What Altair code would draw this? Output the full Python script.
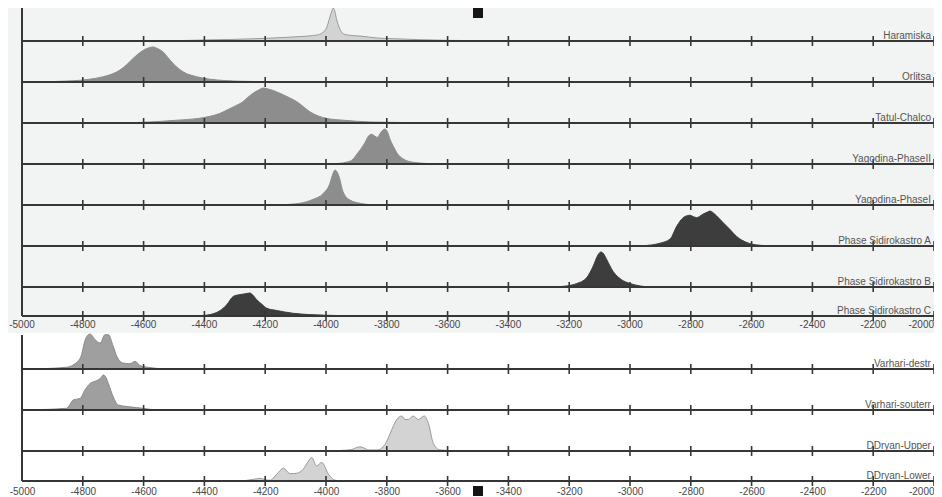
import altair as alt
import pandas as pd

# ---------------- data ----------------
TOP_NAMES = ["Haramiska", "Orlitsa", "Tatul-Chalco", "Yagodina-PhaseII", "Yagodina-PhaseI",
             "Phase Sidirokastro A", "Phase Sidirokastro B", "Phase Sidirokastro C"]
BOT_NAMES = ["Varhari-destr", "Varhari-souterr", "DDryan-Upper", "DDryan-Lower"]

TICK_YEARS = list(range(-4800, -1999, 200))
AXIS_YEARS = list(range(-5000, -1999, 200))
MARKER_YEARS = [-3500]

haramiska_years = [-4550, -4450, -4300, -4200, -4110, -4060, -4030, -4010, -3998, -3988, -3980, -3976,
                   -3972, -3965, -3955, -3944, -3920, -3888, -3832, -3780, -3690, -3600, -3500, -3400]
haramiska_dens = [0, 0.02, 0.05, 0.08, 0.12, 0.15, 0.18, 0.26, 0.4, 0.7, 0.93, 1.0,
                  0.93, 0.65, 0.38, 0.22, 0.17, 0.15, 0.09, 0.07, 0.04, 0.02, 0.01, 0]

orlitsa_years = [-4960, -4875, -4786, -4733, -4700, -4678, -4655, -4635, -4602, -4585, -4569, -4553,
                 -4536, -4520, -4503, -4470, -4425, -4382, -4330, -4273, -4200, -4100]
orlitsa_dens = [0, 0.02, 0.07, 0.15, 0.24, 0.34, 0.5, 0.67, 0.9, 0.97, 1.0, 0.95,
                0.86, 0.7, 0.53, 0.29, 0.15, 0.08, 0.04, 0.02, 0.01, 0]

tatul_years = [-4700, -4602, -4490, -4420, -4382, -4350, -4326, -4300, -4273, -4255, -4240, -4220,
               -4207, -4190, -4174, -4160, -4141, -4120, -4096, -4075, -4053, -4025, -3997, -3944,
               -3900, -3855, -3799, -3700, -3600]
tatul_dens = [0, 0.02, 0.08, 0.13, 0.19, 0.27, 0.37, 0.48, 0.61, 0.75, 0.85, 0.95,
              1.0, 0.97, 0.93, 0.88, 0.81, 0.72, 0.61, 0.47, 0.32, 0.2, 0.13, 0.08,
              0.05, 0.03, 0.02, 0.01, 0]

yag2_years = [-4010, -3954, -3930, -3915, -3895, -3872, -3860, -3850, -3840, -3831, -3820, -3806,
              -3797, -3789, -3778, -3767, -3747, -3714, -3658, -3600]
yag2_dens = [0, 0.02, 0.06, 0.11, 0.32, 0.61, 0.8, 0.85, 0.8, 0.76, 0.9, 1.0,
             0.9, 0.7, 0.5, 0.32, 0.15, 0.05, 0.01, 0]

yag1_years = [-4160, -4118, -4086, -4043, -4009, -3987, -3978, -3970, -3964, -3957, -3944, -3921,
              -3888, -3855, -3820]
yag1_dens = [0, 0.02, 0.05, 0.16, 0.33, 0.62, 0.88, 1.0, 0.95, 0.81, 0.38, 0.14, 0.05, 0.01, 0]

sidA_years = [-3000, -2956, -2901, -2868, -2846, -2825, -2810, -2803, -2792, -2781, -2760, -2745,
              -2737, -2728, -2715, -2694, -2671, -2649, -2616, -2583, -2550, -2500]
sidA_dens = [0, 0.01, 0.08, 0.2, 0.57, 0.81, 0.87, 0.88, 0.84, 0.81, 0.91, 0.97,
             1.0, 0.96, 0.86, 0.67, 0.47, 0.27, 0.1, 0.03, 0.01, 0]

sidB_years = [-3260, -3230, -3208, -3175, -3143, -3121, -3105, -3096, -3087, -3077, -3056, -3028,
              -3000, -2967, -2934]
sidB_dens = [0, 0.01, 0.03, 0.1, 0.26, 0.6, 0.92, 1.0, 0.95, 0.79, 0.45, 0.21, 0.1, 0.03, 0]

sidC_years = [-4440, -4405, -4360, -4327, -4305, -4283, -4265, -4250, -4240, -4228, -4210, -4195,
              -4162, -4109, -4053, -3960, -3888, -3850]
sidC_dens = [0, 0.02, 0.15, 0.48, 0.85, 0.93, 0.97, 1.0, 0.9, 0.71, 0.5, 0.34,
             0.24, 0.12, 0.06, 0.02, 0.01, 0]

vdestr_years = [-4960, -4930, -4853, -4820, -4804, -4795, -4787, -4776, -4760, -4743, -4727, -4716,
                -4700, -4688, -4667, -4645, -4628, -4612, -4579, -4546, -4520]
vdestr_dens = [0, 0.01, 0.05, 0.19, 0.41, 0.75, 0.93, 1.0, 0.84, 0.74, 0.98, 0.98,
               0.65, 0.36, 0.17, 0.15, 0.22, 0.1, 0.04, 0.01, 0]

vsout_years = [-4970, -4941, -4853, -4831, -4809, -4793, -4776, -4754, -4740, -4733, -4725, -4716,
               -4700, -4683, -4656, -4623, -4579, -4540]
vsout_dens = [0, 0.01, 0.05, 0.29, 0.33, 0.57, 0.76, 0.84, 0.92, 1.0, 0.95, 0.76,
              0.38, 0.14, 0.1, 0.07, 0.02, 0]

dup_years = [-3980, -3944, -3915, -3900, -3888, -3876, -3860, -3830, -3812, -3800, -3789, -3767,
             -3751, -3740, -3729, -3713, -3696, -3677, -3663, -3647, -3625, -3580, -3550]
dup_dens = [0, 0.02, 0.04, 0.1, 0.12, 0.09, 0.03, 0.03, 0.12, 0.28, 0.5, 0.9,
            1.0, 0.9, 0.9, 1.0, 0.9, 1.0, 0.79, 0.22, 0.03, 0.01, 0]

dlow_years = [-4275, -4239, -4217, -4200, -4184, -4162, -4140, -4118, -4096, -4075, -4060, -4047,
              -4031, -4014, -3992, -3970, -3950]
dlow_dens = [0, 0.07, 0.11, 0.06, 0.03, 0.29, 0.54, 0.31, 0.33, 0.5, 0.8, 1.0,
             0.64, 0.79, 0.29, 0.03, 0]

CURVES = {
    "Haramiska": (haramiska_years, haramiska_dens),
    "Orlitsa": (orlitsa_years, orlitsa_dens),
    "Tatul-Chalco": (tatul_years, tatul_dens),
    "Yagodina-PhaseII": (yag2_years, yag2_dens),
    "Yagodina-PhaseI": (yag1_years, yag1_dens),
    "Phase Sidirokastro A": (sidA_years, sidA_dens),
    "Phase Sidirokastro B": (sidB_years, sidB_dens),
    "Phase Sidirokastro C": (sidC_years, sidC_dens),
    "Varhari-destr": (vdestr_years, vdestr_dens),
    "Varhari-souterr": (vsout_years, vsout_dens),
    "DDryan-Upper": (dup_years, dup_dens),
    "DDryan-Lower": (dlow_years, dlow_dens),
}

# ---------------- layout & style ----------------
X_MIN, X_MAX = -5000, -2000
W, H = 912, 473                 # one plot area spanning both panels (y units = pixels)
TOP_BASE = [440, 399, 358, 317, 276, 235, 194, 165]
BOT_BASE = [112, 71, 30, 0]
TOP_SPAN = (165, 473)           # extent of the upper panel's vertical axis line
BOT_SPAN = (0, 146)             # extent of the lower panel's vertical axis line
MARKER_Y = [468, -10]
PEAK = {n: 35 for n in CURVES}
PEAK["Haramiska"] = 33
PEAK["Phase Sidirokastro C"] = 23
PEAK["DDryan-Lower"] = 23.5
LABEL_YEAR = -2010
TICK_UP, TICK_DOWN = 5, 5

NAMES = TOP_NAMES + BOT_NAMES
BASES = TOP_BASE + BOT_BASE
LIGHT, LIGHT_S = "#d3d3d3", "#9a9a9a"
MID = "#8d8d8d"
DARK = "#3d3d3d"
VAR, VAR_S = "#9f9f9f", "#8a8a8a"
FILLS = [LIGHT, MID, MID, MID, MID, DARK, DARK, DARK, VAR, VAR, LIGHT, LIGHT]
STROKES = [LIGHT_S, MID, MID, MID, MID, DARK, DARK, DARK, VAR_S, VAR_S, LIGHT_S, LIGHT_S]
LINE = "#363636"
FONT = "Liberation Sans"
BG = "#f2f3f3"

# ---------------- tables ----------------
rows = []
for n, b in zip(NAMES, BASES):
    yrs, ds = CURVES[n]
    for yr, d in zip(yrs, ds):
        rows.append({"name": n, "year": yr, "base": b, "top": b + d * PEAK[n]})
dens = pd.DataFrame(rows)
base_df = pd.DataFrame({"name": NAMES, "base": BASES, "x0": X_MIN, "x1": X_MAX, "lx": LABEL_YEAR})
ticks = pd.DataFrame([{"year": t, "lo": b - TICK_DOWN, "hi": b + TICK_UP}
                      for b in BASES for t in TICK_YEARS])
left = pd.DataFrame({"x": [X_MIN, X_MIN], "y0": [TOP_SPAN[0], BOT_SPAN[0]],
                     "y1": [TOP_SPAN[1], BOT_SPAN[1]]})
marks = pd.DataFrame([{"year": yr, "my": my} for yr in MARKER_YEARS for my in MARKER_Y])
mid_labels = pd.DataFrame({"year": AXIS_YEARS, "y": TOP_BASE[-1],
                           "label": [str(v) for v in AXIS_YEARS]})

xs = alt.Scale(domain=[X_MIN, X_MAX], nice=False, zero=False)
ys = alt.Scale(domain=[0, H], nice=False, zero=False)
xa = alt.Axis(values=AXIS_YEARS, labelExpr="'' + datum.value", domain=False, ticks=False,
              grid=False, labelPadding=5, zindex=1, title=None, labelFlush=False,
              labelAlign=alt.ExprRef(f"datum.value == {X_MAX} ? 'right' : 'center'"),
              labelOverlap=False, labelFont=FONT, labelFontSize=10, labelColor="#474747")


def X(field):
    return alt.X(field, scale=xs, axis=xa)


def Y(field):
    return alt.Y(field, scale=ys, axis=None)


bg = alt.Chart(pd.DataFrame({"k": [0]})).mark_rect(color=BG).encode(
    x=alt.value(-14), x2=alt.value(W + 8), y=alt.value(0), y2=alt.value(325))

areas = alt.Chart(dens).mark_area(interpolate="monotone", strokeWidth=1).encode(
    x=X("year:Q"), y=Y("top:Q"), y2="base:Q", detail="name:N",
    fill=alt.Fill("name:N", scale=alt.Scale(domain=NAMES, range=FILLS), legend=None),
    stroke=alt.Stroke("name:N", scale=alt.Scale(domain=NAMES, range=STROKES), legend=None),
)
baselines = alt.Chart(base_df).mark_rule(color=LINE, strokeWidth=2).encode(
    x=X("x0:Q"), x2="x1:Q", y=Y("base:Q"))
tick_rules = alt.Chart(ticks).mark_rule(color=LINE, strokeWidth=1.6).encode(
    x=X("year:Q"), y=Y("lo:Q"), y2="hi:Q")
left_rules = alt.Chart(left).mark_rule(color=LINE, strokeWidth=2).encode(
    x=X("x:Q"), y=Y("y0:Q"), y2="y1:Q")
row_labels = alt.Chart(base_df).mark_text(align="right", baseline="alphabetic", dy=-2.5,
                                          font=FONT, fontSize=10, color="#555555").encode(
    x=X("lx:Q"), y=Y("base:Q"), text="name:N")
mid_common = dict(baseline="top", dy=4, font=FONT, fontSize=10, color="#474747")
mid_axis = alt.Chart(mid_labels).transform_filter(f"datum.year < {X_MAX}").mark_text(
    align="center", **mid_common).encode(x=X("year:Q"), y=Y("y:Q"), text="label:N")
mid_axis_end = alt.Chart(mid_labels).transform_filter(f"datum.year >= {X_MAX}").mark_text(
    align="right", **mid_common).encode(x=X("year:Q"), y=Y("y:Q"), text="label:N")
squares = alt.Chart(marks).mark_square(size=100, color="#151515", opacity=1).encode(
    x=X("year:Q"), y=Y("my:Q"))

chart = alt.layer(bg, areas, baselines, tick_rules, left_rules, row_labels,
                  mid_axis, mid_axis_end, squares).properties(
    width=W, height=H,
    autosize=alt.AutoSizeParams(type="none"),
    padding={"left": 14, "top": 0, "right": 0, "bottom": 16},
    background="white",
).configure_view(stroke=None)

chart.save("out.html", embed_options={"renderer": "svg", "actions": False})
